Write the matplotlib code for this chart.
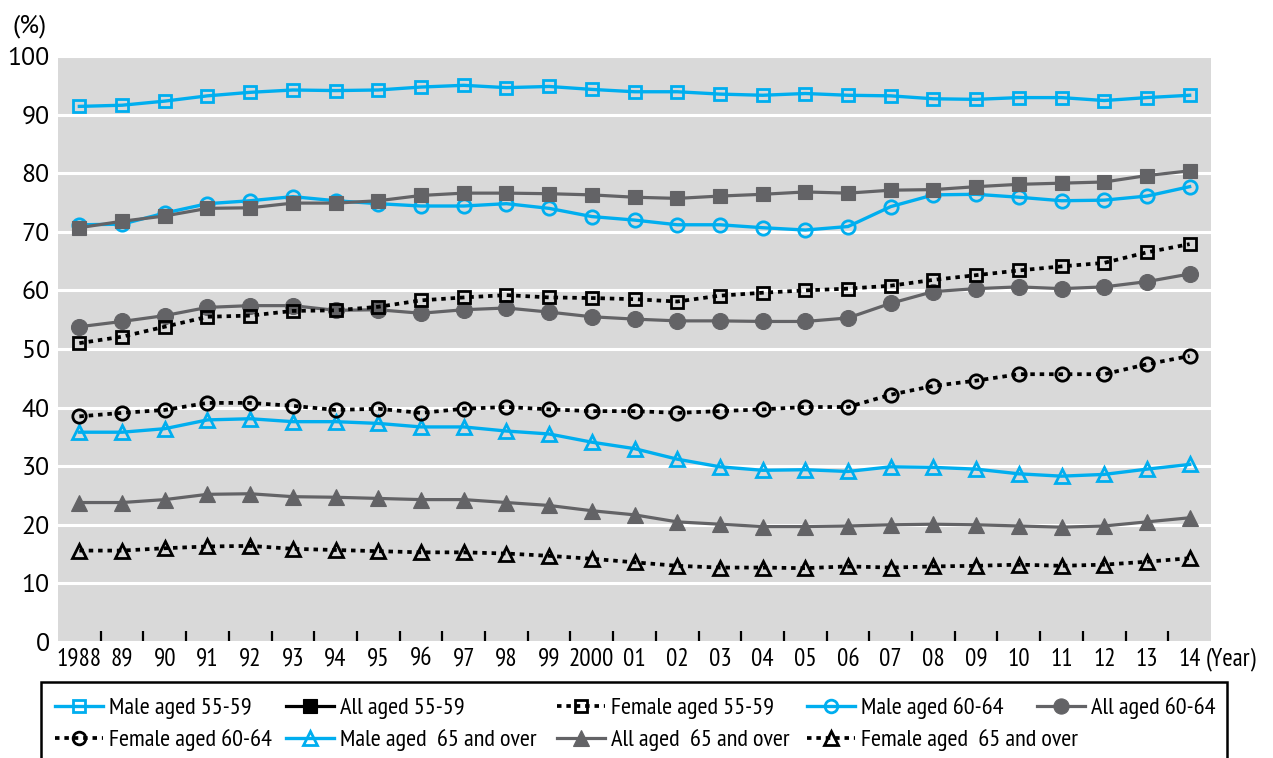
import matplotlib
matplotlib.use("Agg")
import matplotlib.pyplot as plt
from matplotlib.lines import Line2D
from matplotlib.patches import Rectangle
import numpy as np

NARROW = ['PT Sans Narrow', 'Roboto Condensed', 'DejaVu Sans']
REGULAR = ['PT Sans', 'Open Sans', 'DejaVu Sans']
plt.rcParams['font.family'] = NARROW

years = ["1988", "89", "90", "91", "92", "93", "94", "95", "96", "97", "98", "99", "2000",
         "01", "02", "03", "04", "05", "06", "07", "08", "09", "10", "11", "12", "13", "14"]

male_55_59 = [91.4, 91.6, 92.3, 93.2, 93.8, 94.2, 94.1, 94.2, 94.7, 95.0, 94.6, 94.8, 94.3,
              93.9, 93.9, 93.5, 93.3, 93.6, 93.3, 93.2, 92.7, 92.6, 92.9, 92.9, 92.4, 92.9, 93.3]
all_55_59 = [70.7, 71.8, 72.7, 74.0, 74.1, 74.9, 74.9, 75.3, 76.2, 76.6, 76.6, 76.5, 76.3,
             75.9, 75.7, 76.1, 76.4, 76.8, 76.6, 77.1, 77.2, 77.7, 78.1, 78.3, 78.5, 79.6, 80.4]
female_55_59 = [51.0, 52.1, 53.8, 55.5, 55.7, 56.5, 56.6, 57.2, 58.3, 58.8, 59.2, 58.8, 58.7,
                58.5, 58.1, 59.1, 59.6, 60.0, 60.3, 60.8, 61.8, 62.6, 63.4, 64.1, 64.7, 66.5, 67.9]
male_60_64 = [71.2, 71.3, 73.2, 74.8, 75.3, 76.0, 75.3, 74.8, 74.4, 74.4, 74.8, 74.0, 72.6,
              72.0, 71.2, 71.2, 70.7, 70.3, 70.9, 74.3, 76.3, 76.4, 75.9, 75.3, 75.4, 76.1, 77.7]
all_60_64 = [53.8, 54.7, 55.7, 57.1, 57.4, 57.4, 56.6, 56.7, 56.1, 56.7, 57.0, 56.3, 55.5,
             55.1, 54.8, 54.8, 54.7, 54.7, 55.3, 57.8, 59.8, 60.3, 60.6, 60.3, 60.6, 61.5, 62.8]
female_60_64 = [38.5, 39.1, 39.6, 40.8, 40.8, 40.3, 39.6, 39.8, 39.1, 39.8, 40.1, 39.7, 39.4,
                39.4, 39.1, 39.4, 39.7, 40.1, 40.1, 42.2, 43.7, 44.6, 45.7, 45.7, 45.7, 47.4, 48.8]
male_65_over = [35.8, 35.8, 36.4, 37.9, 38.1, 37.6, 37.6, 37.3, 36.7, 36.7, 36.0, 35.5, 34.1,
                33.0, 31.2, 29.9, 29.3, 29.4, 29.1, 29.9, 29.8, 29.5, 28.7, 28.3, 28.6, 29.5, 30.3]
all_65_over = [23.8, 23.8, 24.3, 25.2, 25.3, 24.8, 24.7, 24.5, 24.3, 24.3, 23.8, 23.3, 22.4,
               21.7, 20.5, 20.1, 19.7, 19.7, 19.8, 20.0, 20.1, 20.0, 19.8, 19.6, 19.8, 20.5, 21.2]
female_65_over = [15.6, 15.6, 16.0, 16.3, 16.4, 15.9, 15.7, 15.5, 15.3, 15.3, 15.1, 14.7, 14.2,
                  13.6, 13.0, 12.7, 12.7, 12.6, 12.9, 12.7, 12.9, 13.0, 13.2, 13.0, 13.2, 13.7, 14.3]

labels = ["Male aged 55-59", "All aged 55-59", "Female aged 55-59",
          "Male aged 60-64", "All aged 60-64", "Female aged 60-64",
          "Male aged  65 and over", "All aged  65 and over", "Female aged  65 and over"]
values = [male_55_59, all_55_59, female_55_59, male_60_64, all_60_64, female_60_64,
          male_65_over, all_65_over, female_65_over]

BLUE = "#00aeef"
GRAY = "#636366"
BLACK = "#000000"
BG = "#d9d9d9"
DOT = (1.2, 1.3)

W, H = 1273, 758
# per series: color, marker, filled, dotted, markersize, edge width, line width
styles = [
    (BLUE, "s", False, False, 8.8, 2.0, 2.4),
    (GRAY, "s", True, False, 10.5, 0.8, 2.3),
    (BLACK, "s", False, True, 8.8, 2.0, 2.7),
    (BLUE, "o", False, False, 9.6, 2.0, 2.4),
    (GRAY, "o", True, False, 11.5, 0.8, 2.3),
    (BLACK, "o", False, True, 9.6, 2.0, 2.7),
    (BLUE, "^", False, False, 10.0, 2.0, 2.4),
    (GRAY, "^", True, False, 12.0, 0.8, 2.3),
    (BLACK, "^", False, True, 10.0, 2.0, 2.7),
]


def line_kw(col, mk, filled, dotted, ms, mew, lw):
    kw = dict(color=col, lw=lw, marker=mk, markersize=ms, markeredgewidth=mew,
              markeredgecolor=col, markerfacecolor=col if filled else "none")
    if dotted:
        kw.update(linestyle=(0, DOT), dash_capstyle="butt")
    else:
        kw.update(linestyle="-")
    return kw


fig = plt.figure(figsize=(W / 100, H / 100), dpi=100)
ax = fig.add_axes([58 / W, 1 - 642 / H, (1211 - 58) / W, (642 - 56) / H])
ax.set_facecolor(BG)

x = np.arange(len(years))
draw_order = [7, 6, 8, 4, 5, 3, 1, 2, 0]
for z, i in enumerate(draw_order):
    ax.plot(x, values[i], zorder=3 + z, clip_on=False, **line_kw(*styles[i]))

ax.set_xlim(-0.5, len(years) - 0.5)
ax.set_ylim(0, 100)
ax.set_yticks(np.arange(0, 101, 10))
ax.set_yticklabels([str(v) for v in range(0, 101, 10)], fontsize=18.5, family=REGULAR)
ax.yaxis.grid(True, color="white", lw=2.2)
ax.set_axisbelow(True)
ax.tick_params(axis="y", length=0, pad=6)

ax.set_xticks(x)
ax.set_xticklabels(years, fontsize=18)
ax.tick_params(axis="x", which="major", length=0, pad=4)
ax.set_xticks(np.arange(0.5, len(years) - 1, 1), minor=True)
ax.tick_params(axis="x", which="minor", direction="in", length=8, width=1.6, color="black")

for s in ax.spines.values():
    s.set_visible(False)

fig.text(12 / W, 1 - 26 / H, "(%)", fontsize=18.5, va="center", ha="left", family=REGULAR)
fig.text(1206 / W, 1 - 659 / H, "(Year)", fontsize=18, va="center", ha="left")

# legend: one entry per slot, two rows inside a single frame
FS = 17.5
fs_px = FS * 100 / 72
col_x = [55, 286, 557, 807, 1037]
row_y = [708, 740]
slots = [(0, 0), (0, 1), (0, 2), (0, 3), (0, 4), (1, 0), (1, 1), (1, 2), (1, 3)]
for i, (r, c) in enumerate(slots):
    col, mk, filled, dotted, ms, mew, lw = styles[i]
    if i == 1:
        col = BLACK
    h = Line2D([], [], **line_kw(col, mk, filled, dotted, ms * 0.95, mew, lw))
    fig.legend([h], [labels[i]], loc="center left",
               bbox_to_anchor=(col_x[c] / W, 1 - row_y[r] / H),
               frameon=False, borderpad=0, borderaxespad=0, fontsize=FS,
               handlelength=48 / fs_px, handletextpad=6 / fs_px)

fig.add_artist(Rectangle((41 / W, 1 - 790 / H), (1227 - 41) / W, (790 - 682) / H,
                         transform=fig.transFigure, fill=False, edgecolor="black",
                         lw=1.8, clip_on=False))

fig.savefig("out.png", dpi=100)
